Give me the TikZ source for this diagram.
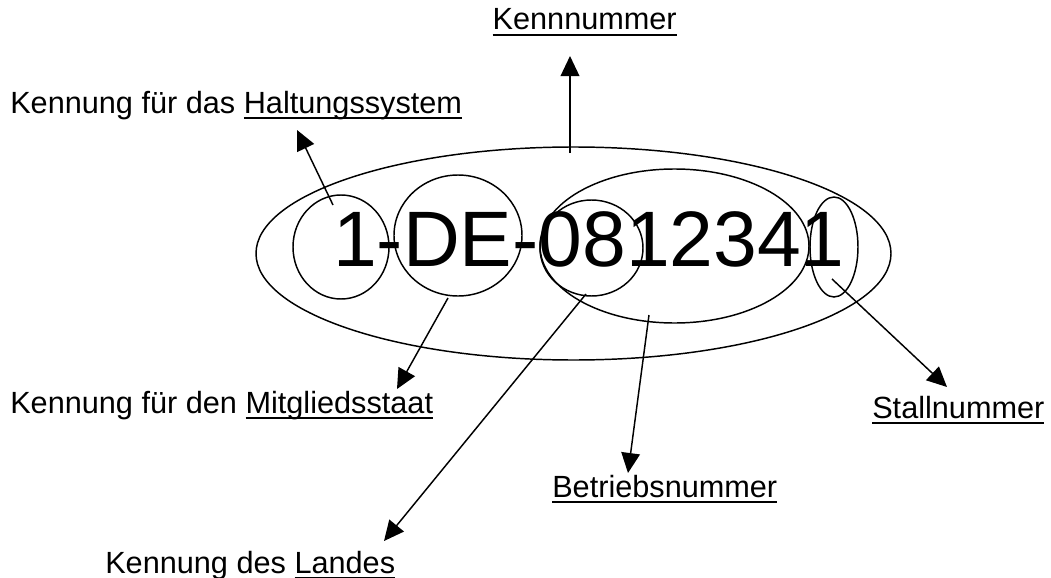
\documentclass[tikz,border=0pt]{standalone}
\usepackage{fontspec}
\setmainfont{Liberation Sans}
\usetikzlibrary{arrows.meta,shapes.geometric}
\newcommand\myul[1]{\setbox0\hbox{#1}\rlap{\rule[-0.21em]{\wd0}{0.09em}}\box0}
\tikzset{
  lbl/.style={inner sep=0pt, anchor=base west, font=\fontsize{23pt}{27pt}\selectfont},
  ring/.style={draw, ellipse, inner sep=0pt, line width=1.1pt},
  arr/.style={line width=1.1pt, -{Triangle[length=15pt,width=14pt]}},
}
\begin{document}
\begin{tikzpicture}[x=0.75pt,y=-0.75pt]
\useasboundingbox (0,0) rectangle (1051,578);
% labels
\node[lbl] (halt) at (10,113) {Kennung für das \myul{Haltungssystem}};
\node[lbl] (mitg) at (10,413) {Kennung für den \myul{Mitgliedsstaat}};
\node[lbl] (land) at (105,573) {Kennung des \myul{Landes}};
\node[lbl, anchor=base east] (kenn) at (677,30) {\myul{Kennnummer}};
\node[lbl] (betr) at (552,497) {\myul{Betriebsnummer}};
\node[lbl] (stal) at (872,418) {\myul{Stallnummer}};
% number
\node[inner sep=0pt, anchor=base, font=\fontsize{59pt}{70pt}\selectfont] (num) at (589,266) {1-DE-0812341};
% ellipses
\node[ring, minimum width=635*0.75pt, minimum height=213*0.75pt] (big) at (573.5,253.5) {};
\node[ring, minimum width=96*0.75pt, minimum height=104*0.75pt] (c1) at (341,247) {};
\node[ring, minimum width=128*0.75pt, minimum height=121*0.75pt] (c2) at (458,235.5) {};
\node[ring, minimum width=103*0.75pt, minimum height=96*0.75pt] (c3) at (591.5,248) {};
\node[ring, minimum width=269*0.75pt, minimum height=154*0.75pt] (c4) at (674.5,246) {};
\node[ring, minimum width=48*0.75pt, minimum height=100*0.75pt] (c5) at (834,247) {};
% connector ends
\coordinate (sK) at (570,153);
\coordinate (tK) at (570,56);
\coordinate (sH) at (333,205);
\coordinate (tH) at (297,130);
\coordinate (sM) at (448,298);
\coordinate (tM) at (397,389);
\coordinate (sL) at (586,294);
\coordinate (tL) at (384,541);
\coordinate (sB) at (649,315);
\coordinate (tB) at (628,473);
\coordinate (sS) at (832,279);
\coordinate (tS) at (947,387);
\draw[arr] (sK) -- (tK);
\draw[arr] (sH) -- (tH);
\draw[arr] (sM) -- (tM);
\draw[arr] (sL) -- (tL);
\draw[arr] (sB) -- (tB);
\draw[arr] (sS) -- (tS);
\end{tikzpicture}
\end{document}
